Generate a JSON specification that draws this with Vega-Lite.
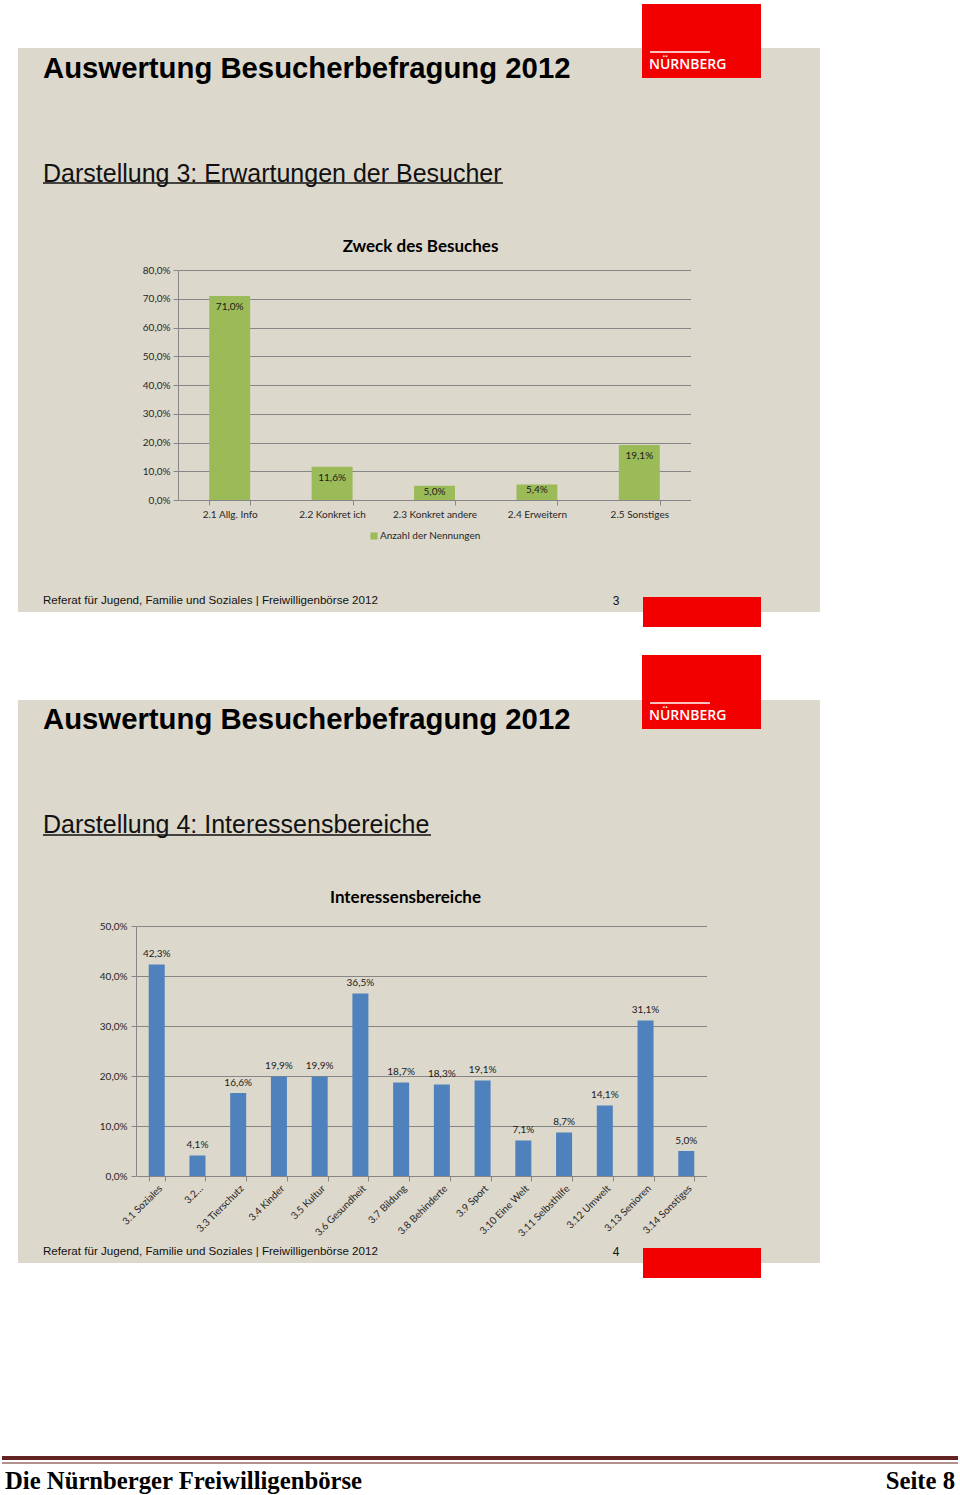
{
  "$schema": "https://vega.github.io/schema/vega-lite/v6.json",
  "background": "white",
  "padding": {"left": 0, "top": 4, "right": 0, "bottom": 0},
  "bounds": "flush",
  "spacing": 88,
  "config": {
    "view": {"stroke": null},
    "locale": {"number": {"decimal": ",", "thousands": ".", "grouping": [3], "currency": ["", " €"]}},
    "axis": {
      "labelFont": "Lato", "labelFontSize": 10, "labelColor": "#262626",
      "domainColor": "#868686", "tickColor": "#868686", "gridColor": "#868686",
      "titleFont": "Lato", "titleColor": "#000000"
    },
    "legend": {"labelFont": "Lato", "labelFontSize": 10, "labelColor": "#262626"}
  },
  "vconcat": [
    {
      "width": 802,
      "height": 564,
      "view": {"fill": "#ddd8cc", "stroke": null},
      "title": {
        "text": "Auswertung Besucherbefragung 2012",
        "subtitle": "Darstellung 3: Erwartungen der Besucher",
        "anchor": "start", "frame": "group", "offset": -183, "dx": 25,
        "font": "Liberation Sans", "fontSize": 29.3, "fontWeight": "bold", "color": "#000000",
        "subtitleFont": "Liberation Sans", "subtitleFontSize": 25, "subtitleColor": "#111111",
        "subtitlePadding": 78
      },
      "layer": [
        {
          "data": {"values": [
            {"kategorie": "2.1 Allg. Info", "anteil": 0.710, "serie": "Anzahl der Nennungen"},
            {"kategorie": "2.2 Konkret ich", "anteil": 0.116, "serie": "Anzahl der Nennungen"},
            {"kategorie": "2.3 Konkret andere", "anteil": 0.050, "serie": "Anzahl der Nennungen"},
            {"kategorie": "2.4 Erweitern", "anteil": 0.054, "serie": "Anzahl der Nennungen"},
            {"kategorie": "2.5 Sonstiges", "anteil": 0.191, "serie": "Anzahl der Nennungen"}
          ]},
          "mark": {"type": "bar"},
          "encoding": {
            "x": {"field": "kategorie", "type": "nominal", "sort": null,
              "scale": {"range": [160.5, 672.5], "paddingInner": 0.6, "paddingOuter": 0.3},
              "axis": {"orient": "bottom", "offset": -112, "title": null, "labelAngle": 0,
                "tickBand": "extent", "tickSize": 5, "labelPadding": 4, "grid": false}},
            "y": {"field": "anteil", "type": "quantitative",
              "scale": {"domain": [0, 0.8], "range": [452, 222], "nice": false, "zero": true},
              "axis": {"orient": "left", "offset": -160, "values": [0, 0.1, 0.2, 0.3, 0.4, 0.5, 0.6, 0.7, 0.8],
                "format": ".1%", "grid": true, "tickSize": 5, "labelPadding": 3,
                "title": "Zweck des Besuches", "titleAngle": 0, "titleX": 242, "titleY": 198,
                "titleAlign": "center", "titleBaseline": "middle", "titleFontSize": 17, "titleFontWeight": "bold"}},
            "color": {"field": "serie", "type": "nominal",
              "scale": {"range": ["#9bbb59"]},
              "legend": {"title": null, "orient": "none", "legendX": 351, "legendY": 483,
                "symbolType": "square", "symbolSize": 50, "padding": 0, "labelOffset": 1}}
          }
        },
        {
          "data": {"values": [
            {"kategorie": "2.1 Allg. Info", "anteil": 0.710},
            {"kategorie": "2.2 Konkret ich", "anteil": 0.116},
            {"kategorie": "2.5 Sonstiges", "anteil": 0.191}
          ]},
          "mark": {"type": "text", "font": "Lato", "fontSize": 10, "color": "#1a1a1a", "baseline": "middle", "dy": 11},
          "encoding": {
            "x": {"field": "kategorie", "type": "nominal", "sort": null},
            "y": {"field": "anteil", "type": "quantitative", "title": "Zweck des Besuches"},
            "text": {"field": "anteil", "type": "quantitative", "format": ".1%"}
          }
        },
        {
          "data": {"values": [
            {"kategorie": "2.3 Konkret andere", "anteil": 0.050},
            {"kategorie": "2.4 Erweitern", "anteil": 0.054}
          ]},
          "mark": {"type": "text", "font": "Lato", "fontSize": 10, "color": "#1a1a1a", "baseline": "middle", "dy": 6},
          "encoding": {
            "x": {"field": "kategorie", "type": "nominal", "sort": null},
            "y": {"field": "anteil", "type": "quantitative", "title": "Zweck des Besuches"},
            "text": {"field": "anteil", "type": "quantitative", "format": ".1%"}
          }
        },
        {
          "data": {"values": [{"teil": "Logo"}]},
          "mark": {"type": "rect", "color": "#f20000"},
          "encoding": {"x": {"value": 624}, "x2": {"value": 743}, "y": {"value": -44}, "y2": {"value": 30}}
        },
        {
          "data": {"values": [{"teil": "Logo"}]},
          "mark": {"type": "rule", "color": "#ffffff", "strokeWidth": 1.5},
          "encoding": {"x": {"value": 632}, "x2": {"value": 692}, "y": {"value": 4}}
        },
        {
          "data": {"values": [{"name": "NÜRNBERG"}]},
          "mark": {"type": "text", "font": "Open Sans", "fontSize": 14, "fontWeight": 600, "color": "#ffffff", "align": "left", "baseline": "middle"},
          "encoding": {"x": {"value": 631}, "y": {"value": 17}, "text": {"field": "name"}}
        },
        {
          "data": {"values": [{"teil": "Unterstreichung"}]},
          "mark": {"type": "rule", "color": "#111111", "strokeWidth": 1.5},
          "encoding": {"x": {"value": 25}, "x2": {"value": 485}, "y": {"value": 135}}
        },
        {
          "data": {"values": [{"teil": "Fuss"}]},
          "mark": {"type": "rect", "color": "#f20000"},
          "encoding": {"x": {"value": 625}, "x2": {"value": 743}, "y": {"value": 549}, "y2": {"value": 579}}
        },
        {
          "data": {"values": [{"text": "Referat für Jugend, Familie und Soziales |  Freiwilligenbörse 2012"}]},
          "mark": {"type": "text", "font": "Liberation Sans", "fontSize": 11.6, "color": "#111111", "align": "left", "baseline": "middle"},
          "encoding": {"x": {"value": 25}, "y": {"value": 553}, "text": {"field": "text"}}
        },
        {
          "data": {"values": [{"text": "3"}]},
          "mark": {"type": "text", "font": "Liberation Sans", "fontSize": 12, "color": "#111111", "align": "center", "baseline": "middle"},
          "encoding": {"x": {"value": 598}, "y": {"value": 553}, "text": {"field": "text"}}
        }
      ]
    },
    {
      "width": 802,
      "height": 563,
      "view": {"fill": "#ddd8cc", "stroke": null},
      "title": {
        "text": "Auswertung Besucherbefragung 2012",
        "subtitle": "Darstellung 4: Interessensbereiche",
        "anchor": "start", "frame": "group", "offset": -183, "dx": 25,
        "font": "Liberation Sans", "fontSize": 29.3, "fontWeight": "bold", "color": "#000000",
        "subtitleFont": "Liberation Sans", "subtitleFontSize": 25, "subtitleColor": "#111111",
        "subtitlePadding": 78
      },
      "layer": [
        {
          "data": {"values": [
            {"bereich": "3.1 Soziales", "anteil": 0.423},
            {"bereich": "3.2…", "anteil": 0.041},
            {"bereich": "3.3 Tierschutz", "anteil": 0.166},
            {"bereich": "3.4 Kinder", "anteil": 0.199},
            {"bereich": "3.5 Kultur", "anteil": 0.199},
            {"bereich": "3.6 Gesundheit", "anteil": 0.365},
            {"bereich": "3.7 Bildung", "anteil": 0.187},
            {"bereich": "3.8 Behinderte", "anteil": 0.183},
            {"bereich": "3.9 Sport", "anteil": 0.191},
            {"bereich": "3.10 Eine Welt", "anteil": 0.071},
            {"bereich": "3.11 Selbsthilfe", "anteil": 0.087},
            {"bereich": "3.12 Umwelt", "anteil": 0.141},
            {"bereich": "3.13 Senioren", "anteil": 0.311},
            {"bereich": "3.14 Sonstiges", "anteil": 0.050}
          ]},
          "layer": [
            {
              "mark": {"type": "bar", "color": "#4f81bd"},
              "encoding": {
                "x": {"field": "bereich", "type": "nominal", "sort": null,
                  "scale": {"range": [118.5, 688.5], "paddingInner": 0.607, "paddingOuter": 0.3},
                  "axis": {"orient": "bottom", "offset": -87, "title": null, "labelAngle": -45,
                    "labelAlign": "right", "labelBaseline": "top",
                    "tickBand": "extent", "tickSize": 5, "labelPadding": 2, "grid": false}},
                "y": {"field": "anteil", "type": "quantitative",
                  "scale": {"domain": [0, 0.5], "range": [476, 226], "nice": false, "zero": true},
                  "axis": {"orient": "left", "offset": -118, "values": [0, 0.1, 0.2, 0.3, 0.4, 0.5],
                    "format": ".1%", "grid": true, "tickSize": 5, "labelPadding": 4,
                    "title": "Interessensbereiche", "titleAngle": 0, "titleX": 269, "titleY": 197,
                    "titleAlign": "center", "titleBaseline": "middle", "titleFontSize": 17, "titleFontWeight": "bold"}}
              }
            },
            {
              "mark": {"type": "text", "font": "Lato", "fontSize": 10, "color": "#1a1a1a", "baseline": "middle", "dy": -10.5},
              "encoding": {
                "x": {"field": "bereich", "type": "nominal", "sort": null},
                "y": {"field": "anteil", "type": "quantitative", "title": "Interessensbereiche"},
                "text": {"field": "anteil", "type": "quantitative", "format": ".1%"}
              }
            }
          ]
        },
        {
          "data": {"values": [{"teil": "Logo"}]},
          "mark": {"type": "rect", "color": "#f20000"},
          "encoding": {"x": {"value": 624}, "x2": {"value": 743}, "y": {"value": -45}, "y2": {"value": 29}}
        },
        {
          "data": {"values": [{"teil": "Logo"}]},
          "mark": {"type": "rule", "color": "#ffffff", "strokeWidth": 1.5},
          "encoding": {"x": {"value": 632}, "x2": {"value": 692}, "y": {"value": 3}}
        },
        {
          "data": {"values": [{"name": "NÜRNBERG"}]},
          "mark": {"type": "text", "font": "Open Sans", "fontSize": 14, "fontWeight": 600, "color": "#ffffff", "align": "left", "baseline": "middle"},
          "encoding": {"x": {"value": 631}, "y": {"value": 16}, "text": {"field": "name"}}
        },
        {
          "data": {"values": [{"teil": "Unterstreichung"}]},
          "mark": {"type": "rule", "color": "#111111", "strokeWidth": 1.5},
          "encoding": {"x": {"value": 25}, "x2": {"value": 413}, "y": {"value": 135}}
        },
        {
          "data": {"values": [{"teil": "Fuss"}]},
          "mark": {"type": "rect", "color": "#f20000"},
          "encoding": {"x": {"value": 625}, "x2": {"value": 743}, "y": {"value": 548}, "y2": {"value": 578}}
        },
        {
          "data": {"values": [{"text": "Referat für Jugend, Familie und Soziales |  Freiwilligenbörse 2012"}]},
          "mark": {"type": "text", "font": "Liberation Sans", "fontSize": 11.6, "color": "#111111", "align": "left", "baseline": "middle"},
          "encoding": {"x": {"value": 25}, "y": {"value": 552}, "text": {"field": "text"}}
        },
        {
          "data": {"values": [{"text": "4"}]},
          "mark": {"type": "text", "font": "Liberation Sans", "fontSize": 12, "color": "#111111", "align": "center", "baseline": "middle"},
          "encoding": {"x": {"value": 598}, "y": {"value": 552}, "text": {"field": "text"}}
        }
      ]
    },
    {
      "width": 802,
      "height": 144,
      "layer": [
        {
          "data": {"values": [{"teil": "Linie"}]},
          "mark": {"type": "rule", "color": "#622423", "strokeWidth": 4},
          "encoding": {"x": {"value": -16}, "x2": {"value": 940}, "y": {"value": 107}}
        },
        {
          "data": {"values": [{"teil": "Linie"}]},
          "mark": {"type": "rule", "color": "#622423", "strokeWidth": 1},
          "encoding": {"x": {"value": -16}, "x2": {"value": 940}, "y": {"value": 112}}
        },
        {
          "data": {"values": [{"text": "Die Nürnberger Freiwilligenbörse"}]},
          "mark": {"type": "text", "font": "Liberation Serif", "fontSize": 24.7, "fontWeight": "bold", "color": "#000000", "align": "left", "baseline": "middle"},
          "encoding": {"x": {"value": -13}, "y": {"value": 131}, "text": {"field": "text"}}
        },
        {
          "data": {"values": [{"text": "Seite 8"}]},
          "mark": {"type": "text", "font": "Liberation Serif", "fontSize": 24.7, "fontWeight": "bold", "color": "#000000", "align": "right", "baseline": "middle"},
          "encoding": {"x": {"value": 937}, "y": {"value": 131}, "text": {"field": "text"}}
        }
      ]
    }
  ]
}
